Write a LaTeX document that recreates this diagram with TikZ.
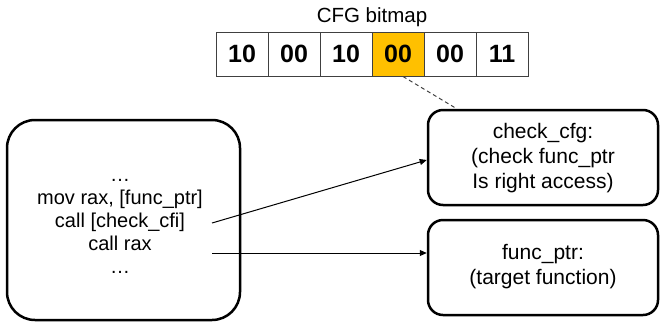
\documentclass[tikz,border=0pt]{standalone}
\usepackage{fontspec}
\setmainfont{Liberation Sans}
\usetikzlibrary{arrows.meta,calc}
\definecolor{hl}{HTML}{FFC000}
\begin{document}
\begin{tikzpicture}[x=1pt,y=-1pt,
  cell/.style={draw=black!75, line width=1pt, minimum width=52pt, minimum height=44pt, inner sep=0pt, font=\fontsize{25}{28}\selectfont\bfseries},
  bigbox/.style={draw, line width=2.5pt, rounded corners=28pt, minimum width=233pt, minimum height=200pt, inner sep=0pt},
  sidebox/.style={draw, line width=2.5pt, rounded corners=15pt, minimum width=230pt, minimum height=95pt, inner sep=0pt},
  txt/.style={align=center, inner sep=0pt},
  conn/.style={line width=1pt, -{Triangle[length=7pt,width=6pt]}}]
\useasboundingbox (0,0) rectangle (660,322);
% bitmap
\node[font=\fontsize{20.5}{24}\selectfont] (title) at (372,17) {CFG bitmap};
\node[cell] (c1) at (242,54) {10};
\node[cell] (c2) at (294,54) {00};
\node[cell] (c3) at (346,54) {10};
\node[cell, fill=hl] (c4) at (398,54) {00};
\node[cell] (c5) at (450,54) {00};
\node[cell] (c6) at (502,54) {11};
% boxes
\node[bigbox] (src) at (123.5,220) {};
\node[txt, font=\fontsize{20}{23}\selectfont] (code) at (120,226) {…\\mov rax, [func\_ptr]\\call [check\_cfi]\\call rax\\…};
\node[sidebox] (chk) at (543,157.5) {};
\node[txt, font=\fontsize{21}{25}\selectfont] (chkt) at (543,158) {check\_cfg:\\(check func\_ptr\\Is right access)};
\node[sidebox] (fp) at (543,267.5) {};
\node[txt, font=\fontsize{21}{25}\selectfont] (fpt) at (543,267) {func\_ptr:\\(target function)};
% connectors
\coordinate (a1) at (212,223);
\coordinate (a2) at (212,253);
\draw[conn] (a1) -- (chk.west |- 0,160);
\draw[conn] (a2) -- (fp.west |- 0,253);
\draw[dash pattern=on 4pt off 3pt, line width=1pt, black!75] ($(c4.south)+(5,0)$) -- ($(chk.north west)+(30,0)$);
\end{tikzpicture}
\end{document}
